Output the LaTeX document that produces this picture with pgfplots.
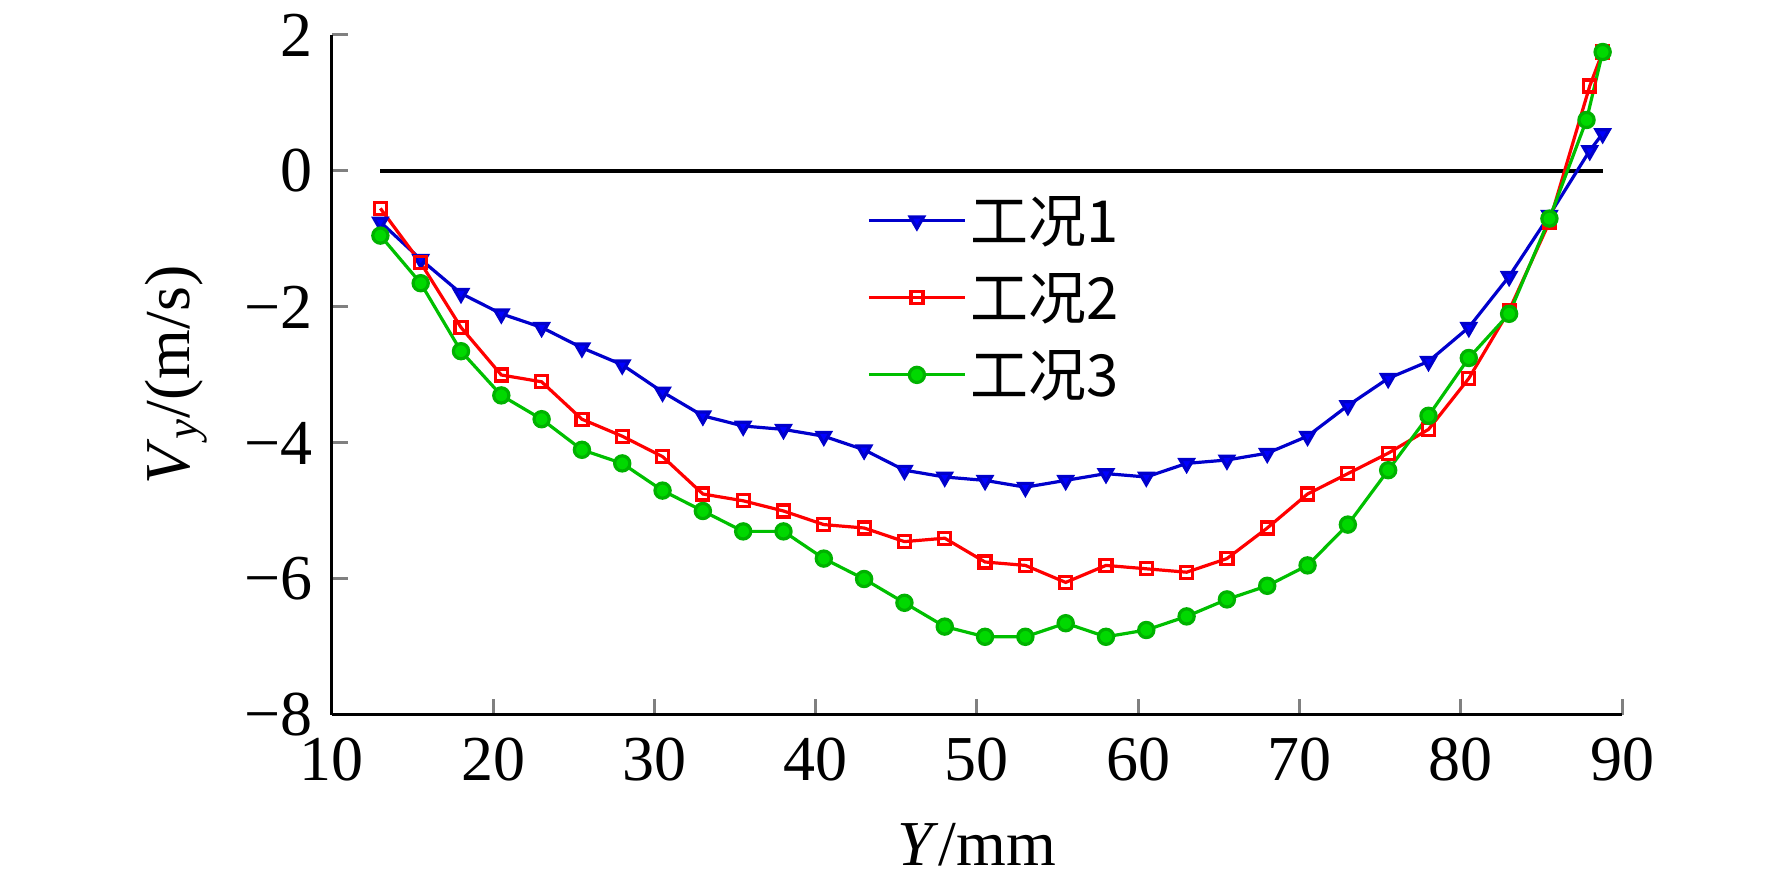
\documentclass[border=0pt]{standalone}
\usepackage{pgfplots}
\pgfplotsset{compat=1.18}
\usepackage{fontspec}
\setmainfont{Liberation Serif}
\newfontfamily\cjk{Noto Sans CJK SC}
\begin{document}
\begin{tikzpicture}
\useasboundingbox (-166pt,-89pt) rectangle (720pt,357.5pt);
\begin{axis}[at={(0,0)},anchor=south west,scale only axis,width=645pt,height=340pt,
 xmin=10,xmax=90,ymin=-8,ymax=2,xtick={10,20,...,90},ytick={-8,-6,...,2},
 yticklabels={−8,−6,−4,−2,0,2},
 xticklabels={10,20,30,40,50,60,70,80,90},
 axis lines=left, axis line style={-,line width=1.5pt}, major tick style={line width=1.5pt},
 tick align=inside, major tick length=8pt,
 ticklabel style={font=\fontsize{32}{36}\selectfont},
 xticklabel style={yshift=-8pt}, yticklabel style={xshift=-6pt},
 xlabel={\textit{Y}/mm}, ylabel={\textit{V}\textsubscript{\textit{y}}/(m/s)},
 label style={font=\fontsize{32}{36}\selectfont},
 xlabel style={yshift=-14pt}, ylabel style={yshift=12pt},
 legend style={draw=none,fill=none,at={(0.41,0.775)},anchor=north west,font=\cjk\fontsize{29}{33}\selectfont,row sep=10pt},
 legend image code/.code={\draw[#1,mark repeat=2,mark phase=2] plot coordinates {(0pt,0pt) (24pt,0pt) (48pt,0pt)};},
 legend cell align=left,
 every axis plot/.append style={line width=1.6pt,mark size=3.8pt},
]
\addplot[black,line width=1.8pt,forget plot] coordinates {(13,0) (88.8,0)};
\addplot[blue!80!black,mark=triangle*,mark options={rotate=180,fill=blue}] coordinates {
(13,-0.75)(15.5,-1.3)(18,-1.8)(20.5,-2.1)(23,-2.3)(25.5,-2.6)(28,-2.85)(30.5,-3.25)(33,-3.6)(35.5,-3.75)(38,-3.8)(40.5,-3.9)(43,-4.1)(45.5,-4.4)(48,-4.5)(50.5,-4.55)(53,-4.65)(55.5,-4.55)(58,-4.45)(60.5,-4.5)(63,-4.3)(65.5,-4.25)(68,-4.15)(70.5,-3.9)(73,-3.45)(75.5,-3.05)(78,-2.8)(80.5,-2.3)(83,-1.55)(85.5,-0.65)(88,0.3)(88.8,0.55)};
\addlegendentry{工况1}
\addplot[red,mark=square,mark size=3pt,mark options={fill=red!20}] coordinates {
(13,-0.55)(15.5,-1.35)(18,-2.3)(20.5,-3.0)(23,-3.1)(25.5,-3.65)(28,-3.9)(30.5,-4.2)(33,-4.75)(35.5,-4.85)(38,-5.0)(40.5,-5.2)(43,-5.25)(45.5,-5.45)(48,-5.4)(50.5,-5.75)(53,-5.8)(55.5,-6.05)(58,-5.8)(60.5,-5.85)(63,-5.9)(65.5,-5.7)(68,-5.25)(70.5,-4.75)(73,-4.45)(75.5,-4.15)(78,-3.8)(80.5,-3.05)(83,-2.05)(85.5,-0.75)(88,1.25)(88.8,1.75)};
\addlegendentry{工况2}
\addplot[green!75!black,mark=*,mark options={fill=green!85!black,draw=green!70!black}] coordinates {
(13,-0.95)(15.5,-1.65)(18,-2.65)(20.5,-3.3)(23,-3.65)(25.5,-4.1)(28,-4.3)(30.5,-4.7)(33,-5.0)(35.5,-5.3)(38,-5.3)(40.5,-5.7)(43,-6.0)(45.5,-6.35)(48,-6.7)(50.5,-6.85)(53,-6.85)(55.5,-6.65)(58,-6.85)(60.5,-6.75)(63,-6.55)(65.5,-6.3)(68,-6.1)(70.5,-5.8)(73,-5.2)(75.5,-4.4)(78,-3.6)(80.5,-2.75)(83,-2.1)(85.5,-0.7)(87.8,0.75)(88.8,1.75)};
\addlegendentry{工况3}
\end{axis}
\end{tikzpicture}
\end{document}
